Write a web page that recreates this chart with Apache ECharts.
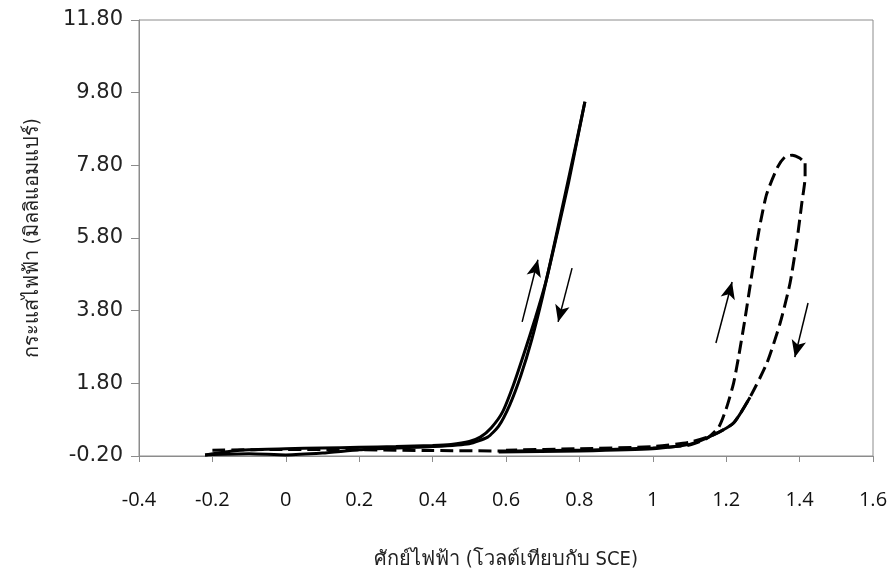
<!DOCTYPE html>
<html>
<head>
<meta charset="utf-8">
<script src="https://cdn.jsdelivr.net/npm/echarts@6/dist/echarts.min.js"></script>
<style>
  html, body { margin: 0; padding: 0; background: #fff; }
  #chart { width: 894px; height: 577px; }
</style>
</head>
<body>
<div id="chart"></div>
<script>
// solid curve, forward and reverse scans [potential V, current mA]
const solidForward = [
  [-0.22, -0.17], [-0.15, -0.07], [-0.1, -0.03], [0, 0.0], [0.1, 0.02], [0.2, 0.04],
  [0.3, 0.06], [0.4, 0.09], [0.45, 0.12], [0.5, 0.2], [0.53, 0.32], [0.56, 0.58],
  [0.59, 1.0], [0.62, 1.75], [0.65, 2.65], [0.68, 3.6], [0.71, 4.65], [0.74, 5.95],
  [0.77, 7.3], [0.8, 8.8], [0.815, 9.55]
];
const solidReverse = [
  [0.815, 9.55], [0.79, 8.35], [0.76, 6.95], [0.73, 5.55], [0.7, 4.2], [0.67, 3.0],
  [0.64, 2.0], [0.61, 1.2], [0.58, 0.62], [0.55, 0.32], [0.5, 0.14], [0.4, 0.06],
  [0.3, 0.02], [0.2, -0.03], [0.1, -0.12], [0, -0.17], [-0.1, -0.14], [-0.22, -0.17]
];
// dashed curve
const dashedForward = [
  [-0.2, -0.04], [0, -0.02], [0.2, -0.03], [0.4, -0.05], [0.6, -0.06], [0.8, -0.04],
  [1.0, 0.02], [1.1, 0.1], [1.15, 0.3], [1.18, 0.6], [1.2, 1.1], [1.22, 1.8],
  [1.235, 2.6], [1.25, 3.5], [1.27, 4.8], [1.29, 6.05], [1.31, 7.0], [1.34, 7.75],
  [1.36, 8.03], [1.38, 8.08], [1.4, 8.0], [1.415, 7.86]
];
const dashedReverse = [
  [1.415, 7.86], [1.415, 7.48], [1.406, 6.76], [1.393, 5.75], [1.374, 4.56],
  [1.347, 3.46], [1.311, 2.36], [1.265, 1.42], [1.22, 0.71], [1.165, 0.38],
  [1.1, 0.18], [1.0, 0.06], [0.8, 0.0], [0.6, -0.04]
];
// bottom of the return scan, drawn solid
const baseline = [
  [0.58, -0.09], [0.8, -0.06], [1.0, 0.0], [1.1, 0.12], [1.165, 0.38],
  [1.22, 0.71], [1.265, 1.42]
];
// scan direction arrows [tail, tip]
const arrows = [
  [[0.644, 3.49], [0.687, 5.2]],
  [[0.78, 4.97], [0.742, 3.49]],
  [[1.172, 2.91], [1.216, 4.59]],
  [[1.423, 4.01], [1.387, 2.52]]
];

const chart = echarts.init(document.getElementById('chart'));

const lineSeries = (data, type) => ({
  type: 'line',
  data: data,
  showSymbol: false,
  smooth: 0.2,
  silent: true,
  lineStyle: { color: '#000', width: 3, type: type },
  z: 3
});

chart.setOption({
  animation: false,
  grid: { left: 139, right: 21, top: 20, bottom: 121, show: true, borderColor: '#8c8c8c', borderWidth: 1 },
  xAxis: {
    type: 'value',
    min: -0.4,
    max: 1.6,
    interval: 0.2,
    name: 'ศักย์ไฟฟ้า (โวลต์เทียบกับ SCE)',
    nameLocation: 'middle',
    nameGap: 94,
    nameTextStyle: { fontSize: 20, color: '#222', fontFamily: 'DejaVu Sans Condensed, Noto Sans, sans-serif' },
    splitLine: { show: false },
    axisLine: { show: true, onZero: false, lineStyle: { color: '#8c8c8c' } },
    axisTick: { show: true, length: 6, lineStyle: { color: '#8c8c8c' } },
    axisLabel: {
      margin: 34,
      fontSize: 20,
      color: '#111',
      fontFamily: 'Open Sans, sans-serif',
      formatter: v => String(parseFloat(v.toFixed(1)))
    }
  },
  yAxis: {
    type: 'value',
    min: -0.2,
    max: 11.8,
    interval: 2,
    name: 'กระแสไฟฟ้า (มิลลิแอมแปร์)',
    nameLocation: 'middle',
    nameRotate: 90,
    nameGap: 96,
    nameTextStyle: { fontSize: 20, color: '#222', fontFamily: 'DejaVu Sans Condensed, Noto Sans, sans-serif' },
    splitLine: { show: false },
    axisLine: { show: true, onZero: false, lineStyle: { color: '#8c8c8c' } },
    axisTick: { show: true, length: 8, lineStyle: { color: '#8c8c8c' } },
    axisLabel: {
      margin: 16,
      fontSize: 21,
      color: '#222',
      fontFamily: 'DejaVu Sans, sans-serif',
      formatter: v => v.toFixed(2)
    }
  },
  series: [
    lineSeries(solidForward, 'solid'),
    lineSeries(solidReverse, 'solid'),
    lineSeries(dashedForward, [13, 6]),
    lineSeries(dashedReverse, [13, 6]),
    lineSeries(baseline, 'solid'),
    {
      type: 'line',
      data: [],
      silent: true,
      markLine: {
        silent: true,
        symbol: ['none', 'arrow'],
        symbolSize: [11, 17],
        label: { show: false },
        lineStyle: { color: '#000', width: 1.5, type: 'solid' },
        data: arrows.map(a => [{ coord: a[0] }, { coord: a[1] }])
      }
    }
  ]
});
</script>
</body>
</html>
